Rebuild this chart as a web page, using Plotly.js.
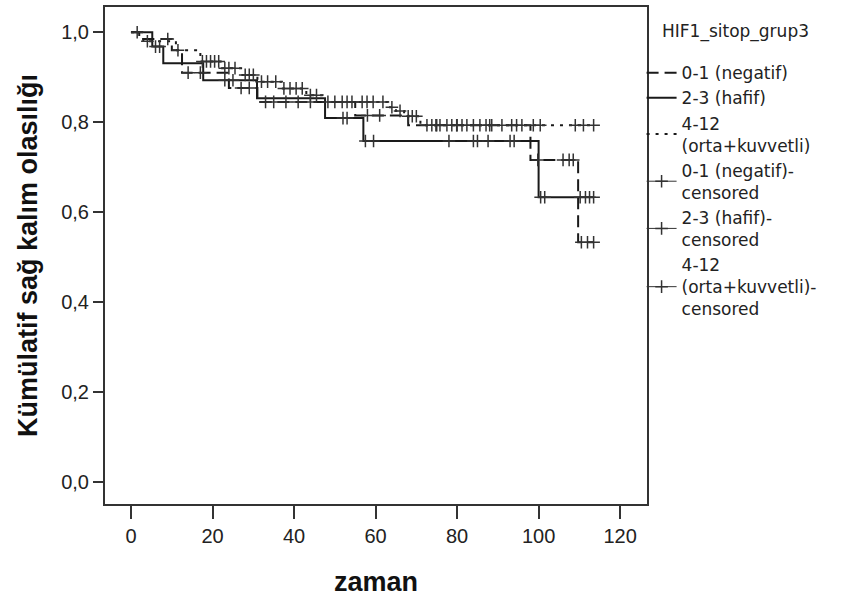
<!DOCTYPE html>
<html>
<head>
<meta charset="utf-8">
<script src="https://cdn.plot.ly/plotly-3.0.1.min.js"></script>
<style>html,body{margin:0;padding:0;background:#fff;}#chart{width:841px;height:601px;}</style>
</head>
<body>
<div id="chart"></div>
<script>
// ---- Data ----
const legendTitle = "HIF1_sitop_grup3";
const groupNames = ["0-1 (negatif)", "2-3 (hafif)", "4-12<br>(orta+kuvvetli)"];
const censorNames = ["0-1 (negatif)-<br>censored", "2-3 (hafif)-<br>censored", "4-12<br>(orta+kuvvetli)-<br>censored"];

// 0-1 (negatif): event times and survival after each step
const negTimes = [0, 2, 10, 12.5, 24, 31, 55, 68, 98, 109.7];
const negSurv  = [1.0, 0.985, 0.96, 0.91, 0.876, 0.845, 0.815, 0.793, 0.716, 0.533];
const negEnd = 113.5;
const negCens = [1.5, 9, 11.5, 14, 17, 27, 29, 33, 35, 38, 41, 44, 58, 61, 75, 80, 88, 99.8, 106, 107.5, 108.5, 110.5, 112, 113.5];

// 2-3 (hafif)
const hafTimes = [0, 5.2, 7.9, 17.7, 30.9, 47.6, 57, 100];
const hafSurv  = [1.0, 0.968, 0.931, 0.893, 0.853, 0.809, 0.758, 0.633];
const hafEnd = 113.5;
const hafCens = [6, 7, 23, 25, 52, 53, 57.5, 59.5, 78, 84, 85, 87.6, 93, 94, 100.5, 101.5, 110.2, 111.5, 112.5, 113.5];

// 4-12 (orta+kuvvetli)
const ortTimes = [0, 3, 11, 17, 22, 27, 31, 37, 43, 47, 63, 65, 67, 71];
const ortSurv  = [1.0, 0.98, 0.96, 0.935, 0.92, 0.905, 0.89, 0.875, 0.86, 0.845, 0.833, 0.825, 0.813, 0.793];
const ortEnd = 113.5;
const ortCens = [4, 17.5, 18.5, 19.5, 20.5, 21.5, 23, 24, 25.5, 28, 29, 30, 32, 33.5, 35.5, 37.5, 39, 40.5, 42, 44, 45.5,
  48.3, 50, 51.8, 53, 54.2, 56.7, 57.9, 59.4, 61.8, 64, 66, 68, 69, 70, 72.6, 73.8, 74.8, 75.8, 77.5, 78.7, 79.9,
  81.2, 82.4, 84, 85.6, 87.1, 88.5, 91, 93.4, 94.6, 95.9, 98.7, 100.4, 109, 111, 113.5];

const xTickVals = [0, 20, 40, 60, 80, 100, 120];
const yTickVals = [0, 0.2, 0.4, 0.6, 0.8, 1.0];

// ---- helpers ----
function stepAt(times, surv, t) {
  let v = surv[0];
  for (let i = 0; i < times.length; i++) { if (times[i] <= t) v = surv[i]; }
  return v;
}
function curveTrace(times, surv, end, name, dash, grp) {
  return {
    x: times.concat([end]), y: surv.concat([surv[surv.length - 1]]),
    mode: "lines", line: {shape: "hv", color: "#1a1a1a", width: 2, dash: dash},
    name: name, legendgroup: grp, hoverinfo: "skip"
  };
}
function censorTrace(times, surv, cens, name, grp) {
  const xs = [], ys = [];
  cens.forEach(t => { xs.push(t, null); ys.push(stepAt(times, surv, t), null); });
  return {
    x: xs, y: ys, mode: "lines+markers", connectgaps: false,
    line: {color: "#333", width: 1},
    marker: {symbol: "cross-thin", size: 9, line: {color: "#333", width: 1.5}, color: "#333"},
    name: name, legendgroup: grp, hoverinfo: "skip"
  };
}

const data = [
  curveTrace(negTimes, negSurv, negEnd, groupNames[0], "12px,6px", "g1"),
  curveTrace(hafTimes, hafSurv, hafEnd, groupNames[1], "solid", "g2"),
  curveTrace(ortTimes, ortSurv, ortEnd, groupNames[2], "3px,6px", "g3"),
  censorTrace(negTimes, negSurv, negCens, censorNames[0], "g4"),
  censorTrace(hafTimes, hafSurv, hafCens, censorNames[1], "g5"),
  censorTrace(ortTimes, ortSurv, ortCens, censorNames[2], "g6")
];

const layout = {
  width: 841, height: 601,
  margin: {l: 105, r: 194, t: 7, b: 97},
  paper_bgcolor: "#fff", plot_bgcolor: "#fff",
  separators: ",.",
  font: {family: "Liberation Sans, Arial, sans-serif", color: "#222", size: 20},
  showlegend: true,
  legend: {
    x: 0.99, xanchor: "left", y: 0.903, yanchor: "top",
    bgcolor: "rgba(0,0,0,0)", borderwidth: 0,
    font: {family: "DejaVu Sans, sans-serif", size: 17, color: "#222"},
    traceorder: "grouped", tracegroupgap: 0, itemwidth: 30
  },
  annotations: [{
    xref: "paper", yref: "paper", x: 1.024, y: 0.9497, xanchor: "left", yanchor: "middle",
    text: legendTitle, showarrow: false,
    font: {family: "DejaVu Sans, sans-serif", size: 17, color: "#222"}
  }],
  xaxis: {
    range: [-6.4, 126.6], tickvals: xTickVals, ticktext: xTickVals.map(String),
    ticks: "outside", ticklen: 13, tickwidth: 2, tickcolor: "#333",
    showline: true, linecolor: "#333", linewidth: 2, mirror: true,
    showgrid: false, zeroline: false,
    tickfont: {size: 20, color: "#222"},
    title: {text: "zaman", font: {size: 27, color: "#111", weight: "bold"}, standoff: 26}
  },
  yaxis: {
    range: [-0.049, 1.056], tickvals: yTickVals, tickformat: ".1f",
    ticks: "outside", ticklen: 10, tickwidth: 2, tickcolor: "#333",
    showline: true, linecolor: "#333", linewidth: 2, mirror: true,
    showgrid: false, zeroline: false,
    tickfont: {size: 20, color: "#222"},
    title: {text: "Kümülatif sağ kalım olasılığı", font: {size: 27, color: "#111", weight: "bold"}, standoff: 16}
  }
};

Plotly.newPlot("chart", data, layout, {staticPlot: true, displayModeBar: false});
</script>
</body>
</html>
